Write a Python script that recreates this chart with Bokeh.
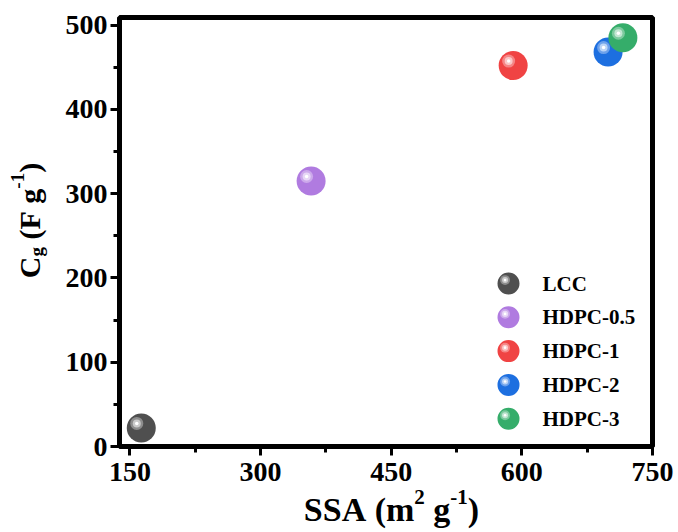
import numpy as np
from bokeh.plotting import figure
from bokeh.models import Range1d, FixedTicker, Label
from bokeh.core.properties import value
from bokeh.embed import file_html
from bokeh.resources import INLINE

# ---- data ----
names = ["LCC", "HDPC-0.5", "HDPC-1", "HDPC-2", "HDPC-3"]
ssa = [163, 358, 590, 699, 716]
cg = [22, 315, 452, 468, 485]
colors = ["#4f4f4f", "#b07be0", "#f04343", "#1d6fe0", "#35ad6a"]
x_ticks = [150, 300, 450, 600, 750]
y_ticks = [0, 100, 200, 300, 400, 500]

FONT = "Liberation Serif"
W, H = 678, 532
# visible plot box (pixels in canvas) and its data limits
BOX_L, BOX_R, BOX_T, BOX_B = 119, 652, 17, 446
X0, X1 = 138, 750
Y0, Y1 = 0, 509
px_x = (BOX_R - BOX_L) / (X1 - X0)
px_y = (BOX_B - BOX_T) / (Y1 - Y0)
XS = X0 - BOX_L / px_x
XE = X1 + (W - BOX_R) / px_x
YS = Y0 - (H - BOX_B) / px_y
YE = Y1 + BOX_T / px_y

p = figure(width=W, height=H, output_backend="svg", toolbar_location=None,
           x_range=Range1d(XS, XE), y_range=Range1d(YS, YE),
           min_border_left=0, min_border_right=0, min_border_top=0, min_border_bottom=0)
p.background_fill_color = "white"
p.border_fill_color = "white"
p.grid.visible = False
p.outline_line_color = None

xminor = [(a + b) / 2 for a, b in zip(x_ticks[:-1], x_ticks[1:])]
yminor = [(a + b) / 2 for a, b in zip(y_ticks[:-1], y_ticks[1:])]
p.xaxis.ticker = FixedTicker(ticks=x_ticks, minor_ticks=xminor)
p.yaxis.ticker = FixedTicker(ticks=y_ticks, minor_ticks=yminor)
p.xaxis.fixed_location = Y0
p.yaxis.fixed_location = X0
p.xaxis.bounds = (X0, X1)
p.yaxis.bounds = (Y0, Y1)
for ax in (p.xaxis[0], p.yaxis[0]):
    ax.axis_line_color = None
    ax.major_tick_line_width = 3
    ax.minor_tick_line_width = 3
    ax.major_tick_out = 9
    ax.major_tick_in = 0
    ax.minor_tick_out = 6
    ax.minor_tick_in = 0
    ax.major_label_text_font = FONT
    ax.major_label_text_font_style = "bold"
    ax.major_label_text_font_size = "28px"
    ax.major_label_text_color = "black"
p.xaxis.major_label_standoff = 7
p.yaxis.major_label_standoff = 3

# plot box
p.quad(left=[X0], right=[X1], bottom=[Y0], top=[Y1], fill_color=None,
       line_color="black", line_width=5)


def blend(hexc, t):
    r, g, b = int(hexc[1:3], 16), int(hexc[3:5], 16), int(hexc[5:7], 16)
    r, g, b = [int(round(c + (255 - c) * t)) for c in (r, g, b)]
    return "#%02x%02x%02x" % (r, g, b)


def sphere(xs, ys, cols, size, ppx=1.0, ppy=1.0, **kw):
    k = size / 29.0
    p.scatter(xs, ys, size=size, fill_color=cols, line_width=0, **kw)
    dx = -4.5 * k / ppx
    dy = 4.5 * k / ppy
    hx = [v + dx for v in xs]
    hy = [v + dy for v in ys]
    p.scatter(hx, hy, size=13 * k, fill_color=[blend(c, 0.35) for c in cols], line_width=0, **kw)
    p.scatter(hx, hy, size=8 * k, fill_color=[blend(c, 0.7) for c in cols], line_width=0, **kw)
    p.scatter(hx, hy, size=3.5 * k, fill_color="white", line_width=0, **kw)


# data points
sphere(ssa, cg, colors, 29, ppx=px_x, ppy=px_y)

# legend in canvas pixel coordinates (origin bottom-left)
p.extra_x_ranges = {"px": Range1d(0, W)}
p.extra_y_ranges = {"px": Range1d(0, H)}
leg_x, leg_y0, leg_step = 508, 249, 33.8
lx = [leg_x] * len(names)
ly = [leg_y0 - i * leg_step for i in range(len(names))]
sphere(lx, ly, colors, 22, x_range_name="px", y_range_name="px")
p.text(x=[leg_x + 34] * len(names), y=ly, text=names, x_range_name="px", y_range_name="px",
       text_font=value(FONT), text_font_style="bold", text_font_size="21px",
       text_baseline="middle", text_align="left", text_color="black")

# axis titles built from pieces (sub/superscripts)
NB = "\u00a0"
WID = {"S": .556, "A": .722, NB: .25, "(": .333, ")": .333, "m": .833, "g": .5,
       "2": .5, "-": .333, "1": .5, "C": .722, "F": .611}


def tw(s, size):
    return sum(WID[c] for c in s) * size


def add_pieces(pieces, x0, y0, rotated):
    pos = 0.0
    for txt, size, shift in pieces:
        if rotated:
            lab = Label(x=x0 - shift, y=y0 + pos, text=txt, angle=np.pi / 2)
        else:
            lab = Label(x=x0 + pos, y=y0 + shift, text=txt)
        lab.x_units = "screen"
        lab.y_units = "screen"
        lab.text_font = FONT
        lab.text_font_style = "bold"
        lab.text_font_size = "%dpx" % size
        lab.text_baseline = "alphabetic"
        lab.text_align = "left"
        lab.text_color = "black"
        p.add_layout(lab)
        pos += tw(txt, size)


xpieces = [("SSA" + NB + "(m", 34, 0), ("2", 21, 13), (NB + "g", 34, 0), ("-1", 21, 13), (")", 34, 0)]
xtot = sum(tw(t, s) for t, s, _ in xpieces)
add_pieces(xpieces, 391 - xtot / 2, H - 519 + 10, False)

ypieces = [("C", 30, 0), ("g", 19, -7), (NB + "(F" + NB + "g", 30, 0), ("-1", 19, 12), (")", 30, 0)]
ytot = sum(tw(t, s) for t, s, _ in ypieces)
add_pieces(ypieces, 29, H - 220 - ytot / 2, True)

open("out.html", "w").write(file_html(p, INLINE))
